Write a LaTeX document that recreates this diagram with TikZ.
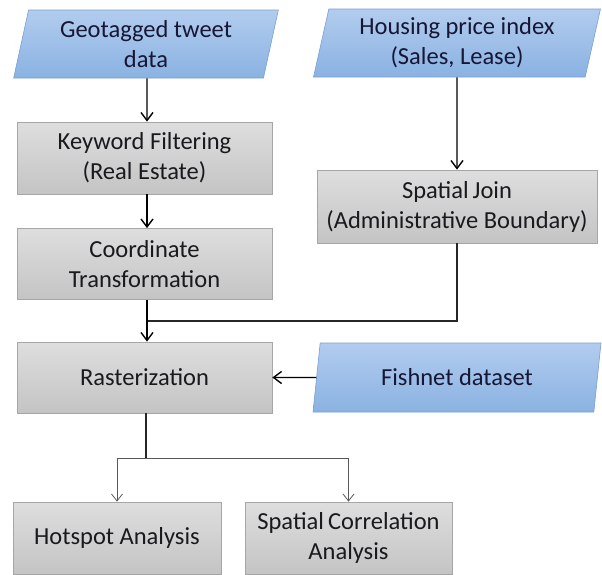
\documentclass[tikz,border=0pt]{standalone}
\usepackage{fontspec}
\setmainfont{Carlito}
\usetikzlibrary{shapes.geometric,arrows.meta}

\definecolor{boxtop}{RGB}{222,222,222}
\definecolor{boxbot}{RGB}{196,196,196}
\definecolor{boxline}{RGB}{166,166,166}
\definecolor{iotop}{RGB}{178,204,238}
\definecolor{iobot}{RGB}{138,178,226}
\definecolor{ioline}{RGB}{120,160,210}
\definecolor{txt}{RGB}{25,25,30}

\tikzset{
  stepbox/.style={rectangle, draw=boxline, line width=0.8pt,
    top color=boxtop, bottom color=boxbot, align=center, inner sep=0pt,
    text=txt},
  iobox/.style={trapezium, trapezium left angle=77, trapezium right angle=103,
    trapezium stretches=true, draw=ioline, line width=0.6pt,
    top color=iotop, bottom color=iobot, align=center, inner sep=0pt,
    text=txt!90!blue},
  flow/.style={-{Straight Barb[length=8pt,width=12pt]}, line width=1.4pt, black},
  link/.style={line width=1.1pt, black!85},
  branch/.style={-{Straight Barb[length=7pt,width=11pt]}, line width=0.8pt, black!65}
}

\begin{document}
\begin{tikzpicture}[x=1pt, y=-1pt, font=\fontsize{24.5}{30}\selectfont]
            \useasboundingbox (0,0) rectangle (602,574);

            % Inputs
            \node[iobox, minimum width=265, minimum height=68] (geo) at (146,44)
              {Geotagged tweet\\data};
            \node[iobox, minimum width=287, minimum height=68] (hpi) at (457,43)
              {Housing price index\\(Sales, Lease)};
            \node[iobox, minimum width=288, minimum height=69] (fish) at (457,377.5)
              {Fishnet dataset};

            % Processing steps
            \node[stepbox, minimum width=255, minimum height=72] (kw) at (144.5,158)
              {Keyword Filtering\\(Real Estate)};
            \node[stepbox, minimum width=255, minimum height=71] (ct) at (144.5,264)
              {Coordinate\\Transformation};
            \node[stepbox, minimum width=280, minimum height=73] (sj) at (457,206.5)
              {Spatial\,Join\\(Administrative Boundary)};
            \node[stepbox, minimum width=255, minimum height=71] (ras) at (144.5,377.5)
              {Rasterization};

            % Analyses
            \node[stepbox, minimum width=208, minimum height=72] (hot) at (117,538)
              {Hotspot Analysis};
            \node[stepbox, minimum width=207, minimum height=72] (scorr) at (348.5,538)
              {Spatial\,Correlation\\Analysis};

            % Junctions
            \coordinate (mrg) at (147,321);
            \coordinate (split) at (146,458);

            % Connectors
            \draw[flow] ([xshift=1pt]geo.south) -- ([xshift=2.5pt]kw.north);
            \draw[flow] ([xshift=2.5pt]kw.south) -- ([xshift=2.5pt]ct.north);
            \draw[flow] (hpi.south) -- (sj.north);
            \draw[link] (sj.south) |- (mrg);
            \draw[flow] ([xshift=2.5pt]ct.south) -- ([xshift=2.5pt]ras.north);
            \draw[flow] (fish) -- (ras);
            \draw[link] ([xshift=1.5pt]ras.south) -- (split);
            \draw[branch] (split) -| (hot.north);
            \draw[branch] (split) -| (scorr.north);

        \end{tikzpicture}
\end{document}
